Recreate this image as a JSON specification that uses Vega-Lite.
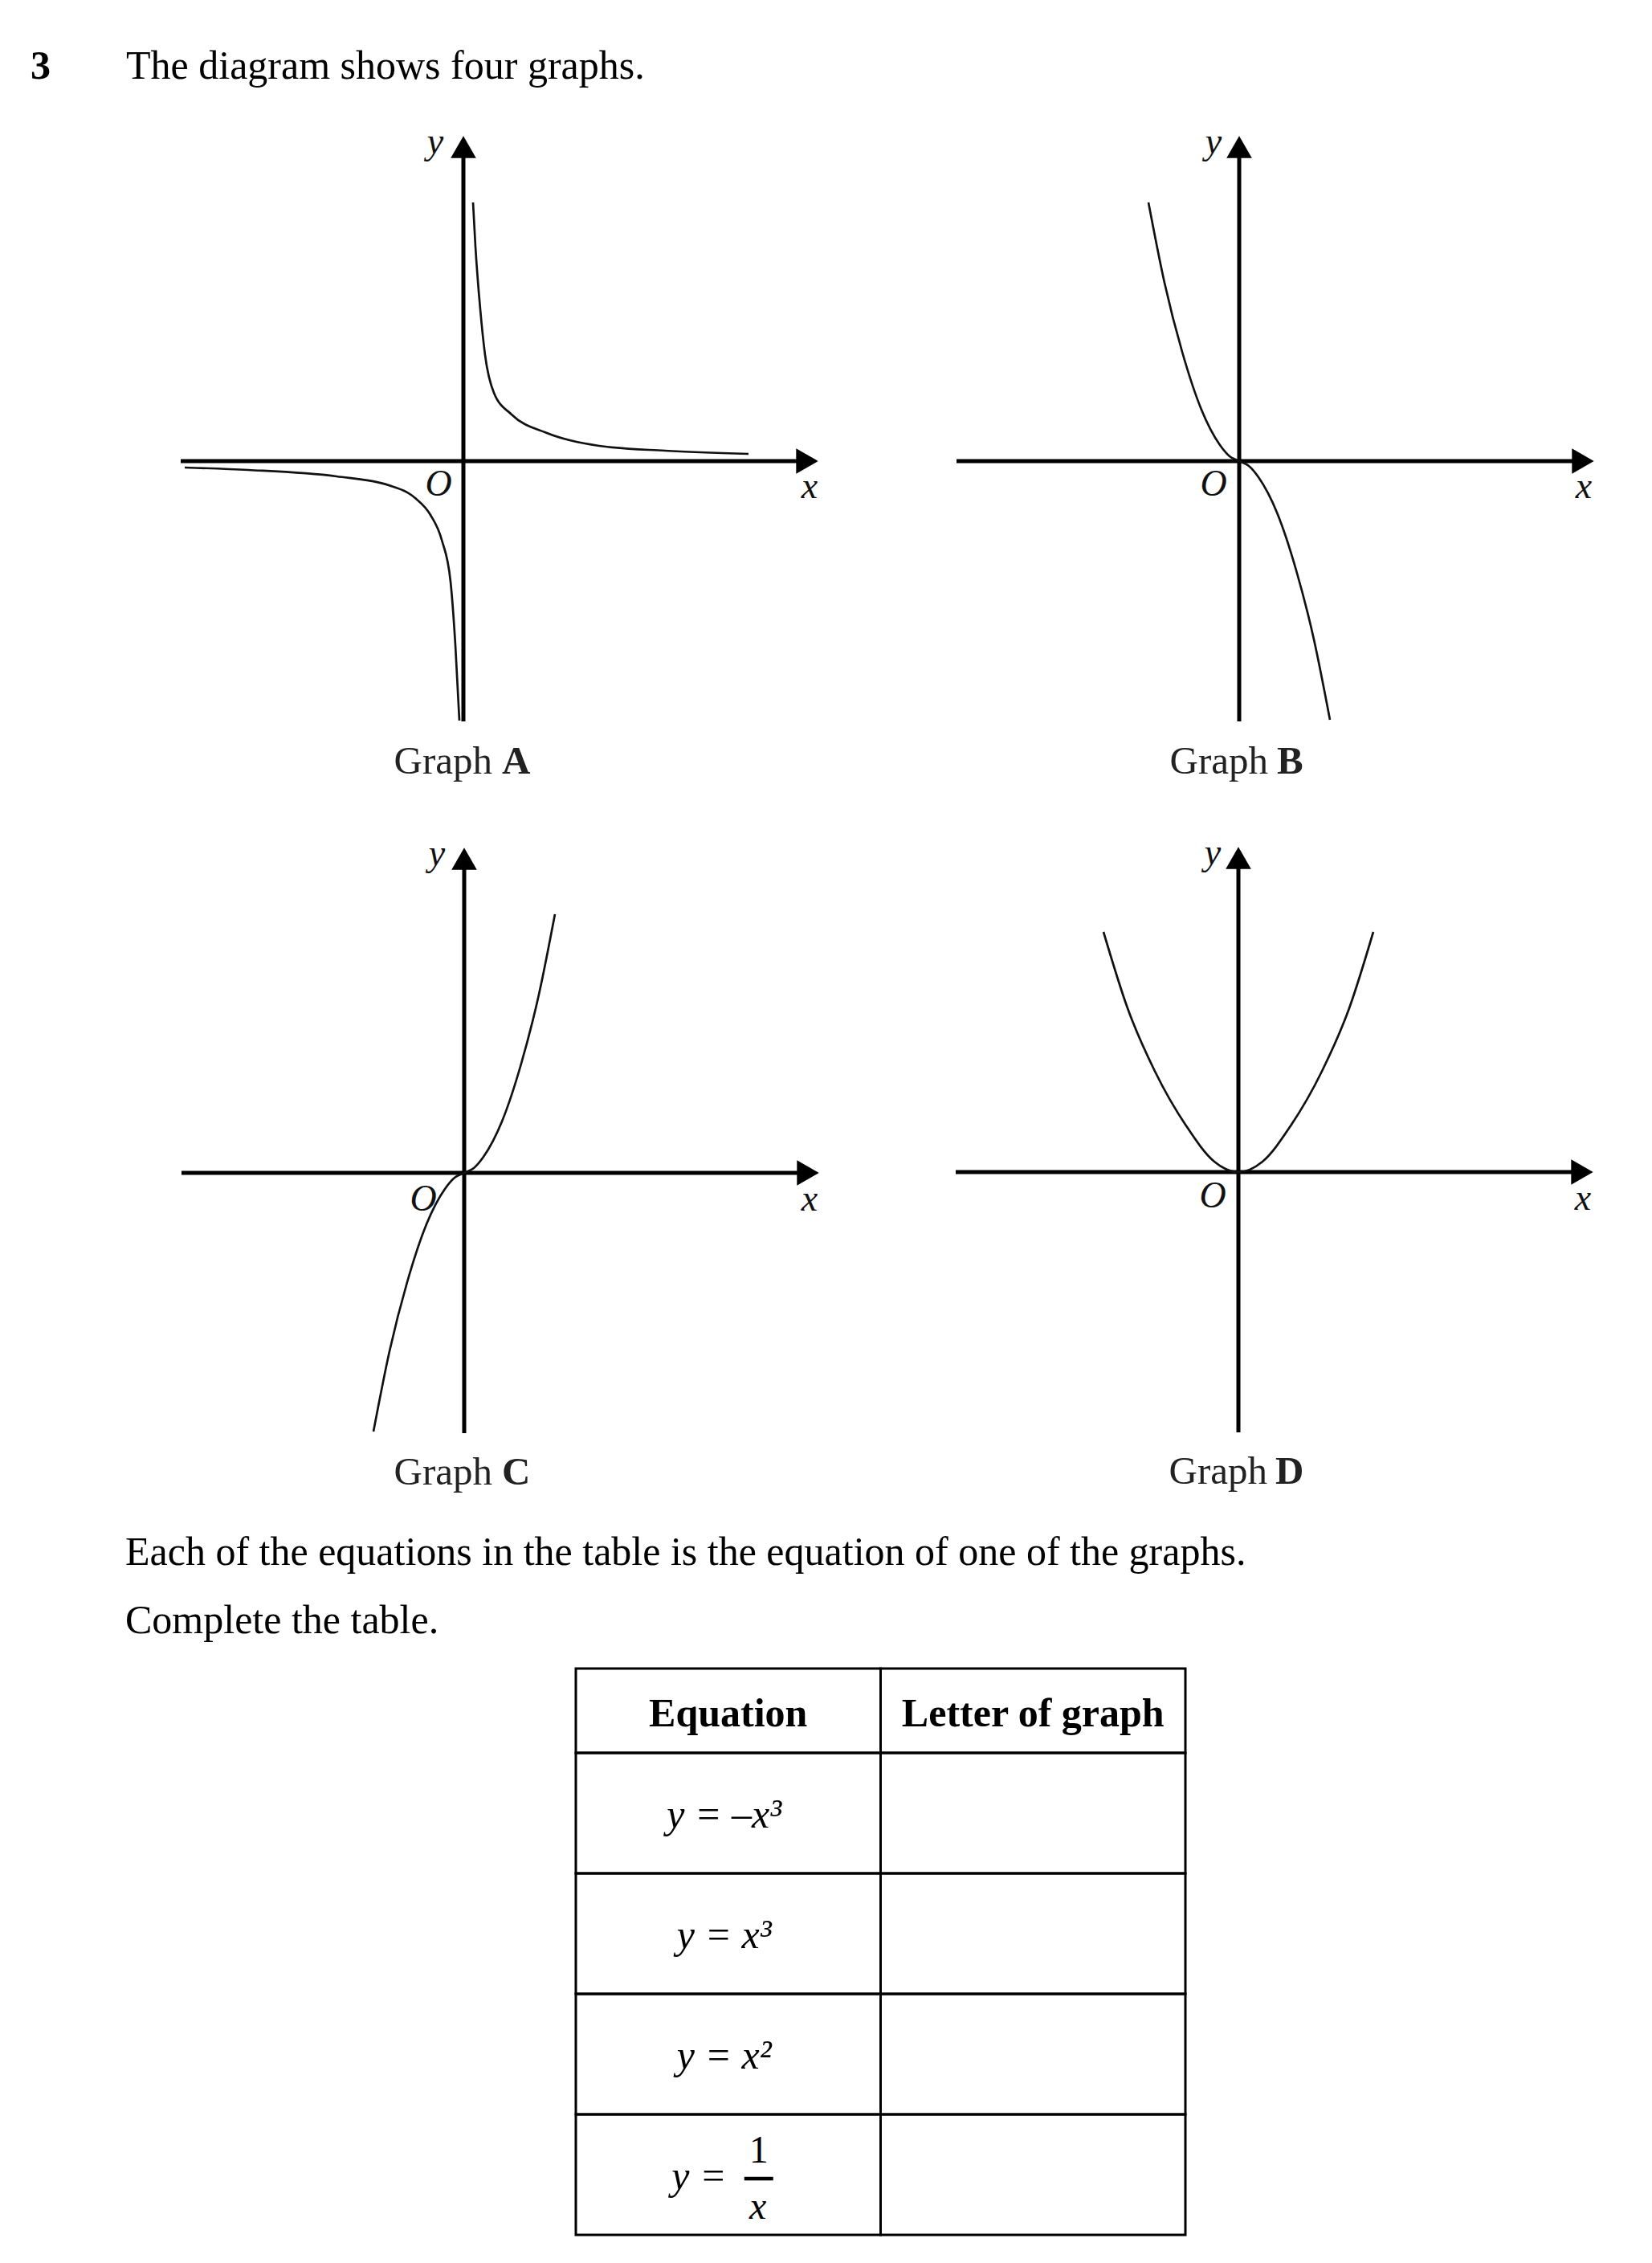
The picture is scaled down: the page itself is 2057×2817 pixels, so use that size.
{
  "$schema": "https://vega.github.io/schema/vega-lite/v6.json",
  "background": "white",
  "padding": 0,
  "spacing": 0,
  "config": {"view": {"stroke": null}, "concat": {"spacing": 0}},
  "datasets": {
    "axisLines": [
      {"axis": "x", "x": -3.52, "x2": 4.2, "y": 0, "y2": 0},
      {"axis": "y", "x": 0, "x2": 0, "y": -3.24, "y2": 3.8}
    ],
    "arrowX": [{"x": 4.28, "y": 0}],
    "arrowY": [{"x": 0, "y": 3.91}],
    "curveA": [
      {"branch": "right", "x": 0.12, "y": 3.22},
      {"branch": "right", "x": 0.15, "y": 2.67},
      {"branch": "right", "x": 0.21, "y": 1.89},
      {"branch": "right", "x": 0.27, "y": 1.32},
      {"branch": "right", "x": 0.38, "y": 0.85},
      {"branch": "right", "x": 0.6, "y": 0.58},
      {"branch": "right", "x": 1.04, "y": 0.35},
      {"branch": "right", "x": 1.69, "y": 0.19},
      {"branch": "right", "x": 2.51, "y": 0.13},
      {"branch": "right", "x": 3.55, "y": 0.09},
      {"branch": "left", "x": -3.47, "y": -0.08},
      {"branch": "left", "x": -2.68, "y": -0.11},
      {"branch": "left", "x": -1.58, "y": -0.19},
      {"branch": "left", "x": -0.93, "y": -0.3},
      {"branch": "left", "x": -0.6, "y": -0.46},
      {"branch": "left", "x": -0.41, "y": -0.67},
      {"branch": "left", "x": -0.27, "y": -0.98},
      {"branch": "left", "x": -0.16, "y": -1.5},
      {"branch": "left", "x": -0.1, "y": -2.29},
      {"branch": "left", "x": -0.05, "y": -3.23}
    ],
    "curveB": [
      {"x": -1.13, "y": 3.22}, {"x": -0.93, "y": 2.22}, {"x": -0.71, "y": 1.36},
      {"x": -0.47, "y": 0.64}, {"x": -0.24, "y": 0.2}, {"x": -0.12, "y": 0.06},
      {"x": 0, "y": 0}, {"x": 0.12, "y": -0.06}, {"x": 0.24, "y": -0.2},
      {"x": 0.47, "y": -0.64}, {"x": 0.71, "y": -1.36}, {"x": 0.93, "y": -2.22},
      {"x": 1.13, "y": -3.22}
    ],
    "curveC": [
      {"x": -1.13, "y": -3.22}, {"x": -0.93, "y": -2.22}, {"x": -0.71, "y": -1.36},
      {"x": -0.47, "y": -0.64}, {"x": -0.24, "y": -0.2}, {"x": -0.12, "y": -0.06},
      {"x": 0, "y": 0}, {"x": 0.12, "y": 0.06}, {"x": 0.24, "y": 0.2},
      {"x": 0.47, "y": 0.64}, {"x": 0.71, "y": 1.36}, {"x": 0.93, "y": 2.22},
      {"x": 1.13, "y": 3.22}
    ],
    "curveD": [
      {"x": -1.68, "y": 2.99}, {"x": -1.38, "y": 2.04}, {"x": -1.04, "y": 1.255},
      {"x": -0.65, "y": 0.575}, {"x": -0.3, "y": 0.13}, {"x": 0, "y": 0},
      {"x": 0.3, "y": 0.13}, {"x": 0.65, "y": 0.575}, {"x": 1.04, "y": 1.255},
      {"x": 1.38, "y": 2.04}, {"x": 1.68, "y": 2.99}
    ],
    "cells": [
      {"row": "1", "col": "Equation"}, {"row": "1", "col": "Letter of graph"},
      {"row": "2", "col": "Equation"}, {"row": "2", "col": "Letter of graph"},
      {"row": "3", "col": "Equation"}, {"row": "3", "col": "Letter of graph"},
      {"row": "4", "col": "Equation"}, {"row": "4", "col": "Letter of graph"}
    ]
  },
  "vconcat": [
    {
      "width": 2057,
      "height": 114,
      "encoding": {
        "x": {"field": "x", "type": "quantitative", "scale": {"domain": [0, 20.57], "nice": false, "zero": false}, "axis": null},
        "y": {"field": "y", "type": "quantitative", "scale": {"domain": [0, 1.14], "nice": false, "zero": false, "reverse": true}, "axis": null},
        "text": {"field": "label", "type": "nominal"}
      },
      "layer": [
        {
          "data": {"values": [{"label": "3", "x": 0.38, "y": 0.98}]},
          "mark": {"type": "text", "align": "left", "baseline": "alphabetic", "font": "Liberation Serif", "fontSize": 50, "fontWeight": "bold", "color": "#000"}
        },
        {
          "data": {"values": [{"label": "The diagram shows four graphs.", "x": 1.57, "y": 0.98}]},
          "mark": {"type": "text", "align": "left", "baseline": "alphabetic", "font": "Liberation Serif", "fontSize": 50, "color": "#000"}
        }
      ]
    },
    {
      "spacing": 0,
      "hconcat": [
        {
          "width": 1100,
          "height": 886,
          "encoding": {
            "x": {"field": "x", "type": "quantitative", "scale": {"domain": [-5.77, 5.23], "nice": false, "zero": false}, "axis": null},
            "y": {"field": "y", "type": "quantitative", "scale": {"domain": [-4.26, 4.6], "nice": false, "zero": false}, "axis": null}
          },
          "layer": [
            {"data": {"name": "axisLines"}, "mark": {"type": "rule", "strokeWidth": 5, "color": "#000"}, "encoding": {"x2": {"field": "x2"}, "y2": {"field": "y2"}}},
            {"data": {"name": "arrowX"}, "mark": {"type": "point", "shape": "triangle-right", "size": 1000, "filled": true, "opacity": 1, "color": "#000"}},
            {"data": {"name": "arrowY"}, "mark": {"type": "point", "shape": "triangle-up", "size": 1000, "filled": true, "opacity": 1, "color": "#000"}},
            {"data": {"name": "curveA"}, "mark": {"type": "line", "interpolate": "monotone", "strokeWidth": 2.7, "color": "#111"}, "encoding": {"detail": {"field": "branch", "type": "nominal"}}},
            {"data": {"values": [{"label": "y", "x": -0.35, "y": 3.83}, {"label": "O", "x": -0.31, "y": -0.43}, {"label": "x", "x": 4.31, "y": -0.46}]},
             "mark": {"type": "text", "font": "Liberation Serif", "fontStyle": "italic", "fontSize": 46, "align": "center", "baseline": "alphabetic", "color": "#111"},
             "encoding": {"text": {"field": "label", "type": "nominal"}}},
            {"data": {"values": [{"label": "Graph", "x": 0.36, "y": -3.89}]},
             "mark": {"type": "text", "font": "Liberation Serif", "fontSize": 49, "align": "right", "baseline": "alphabetic", "color": "#222"},
             "encoding": {"text": {"field": "label", "type": "nominal"}}},
            {"data": {"values": [{"label": "A", "x": 0.48, "y": -3.89}]},
             "mark": {"type": "text", "font": "Liberation Serif", "fontSize": 49, "fontWeight": "bold", "align": "left", "baseline": "alphabetic", "color": "#222"},
             "encoding": {"text": {"field": "label", "type": "nominal"}}}
          ]
        },
        {
          "width": 957,
          "height": 886,
          "encoding": {
            "x": {"field": "x", "type": "quantitative", "scale": {"domain": [-4.43, 5.14], "nice": false, "zero": false}, "axis": null},
            "y": {"field": "y", "type": "quantitative", "scale": {"domain": [-4.26, 4.6], "nice": false, "zero": false}, "axis": null}
          },
          "layer": [
            {"data": {"name": "axisLines"}, "mark": {"type": "rule", "strokeWidth": 5, "color": "#000"}, "encoding": {"x2": {"field": "x2"}, "y2": {"field": "y2"}}},
            {"data": {"name": "arrowX"}, "mark": {"type": "point", "shape": "triangle-right", "size": 1000, "filled": true, "opacity": 1, "color": "#000"}},
            {"data": {"name": "arrowY"}, "mark": {"type": "point", "shape": "triangle-up", "size": 1000, "filled": true, "opacity": 1, "color": "#000"}},
            {"data": {"name": "curveB"}, "mark": {"type": "line", "interpolate": "monotone", "strokeWidth": 2.7, "color": "#111"}},
            {"data": {"values": [{"label": "y", "x": -0.32, "y": 3.83}, {"label": "O", "x": -0.32, "y": -0.43}, {"label": "x", "x": 4.29, "y": -0.46}]},
             "mark": {"type": "text", "font": "Liberation Serif", "fontStyle": "italic", "fontSize": 46, "align": "center", "baseline": "alphabetic", "color": "#111"},
             "encoding": {"text": {"field": "label", "type": "nominal"}}},
            {"data": {"values": [{"label": "Graph", "x": 0.36, "y": -3.89}]},
             "mark": {"type": "text", "font": "Liberation Serif", "fontSize": 49, "align": "right", "baseline": "alphabetic", "color": "#222"},
             "encoding": {"text": {"field": "label", "type": "nominal"}}},
            {"data": {"values": [{"label": "B", "x": 0.47, "y": -3.89}]},
             "mark": {"type": "text", "font": "Liberation Serif", "fontSize": 49, "fontWeight": "bold", "align": "left", "baseline": "alphabetic", "color": "#222"},
             "encoding": {"text": {"field": "label", "type": "nominal"}}}
          ]
        }
      ]
    },
    {
      "spacing": 0,
      "hconcat": [
        {
          "width": 1100,
          "height": 886,
          "encoding": {
            "x": {"field": "x", "type": "quantitative", "scale": {"domain": [-5.78, 5.22], "nice": false, "zero": false}, "axis": null},
            "y": {"field": "y", "type": "quantitative", "scale": {"domain": [-4.26, 4.6], "nice": false, "zero": false}, "axis": null}
          },
          "layer": [
            {"data": {"name": "axisLines"}, "mark": {"type": "rule", "strokeWidth": 5, "color": "#000"}, "encoding": {"x2": {"field": "x2"}, "y2": {"field": "y2"}}},
            {"data": {"name": "arrowX"}, "mark": {"type": "point", "shape": "triangle-right", "size": 1000, "filled": true, "opacity": 1, "color": "#000"}},
            {"data": {"name": "arrowY"}, "mark": {"type": "point", "shape": "triangle-up", "size": 1000, "filled": true, "opacity": 1, "color": "#000"}},
            {"data": {"name": "curveC"}, "mark": {"type": "line", "interpolate": "monotone", "strokeWidth": 2.7, "color": "#111"}},
            {"data": {"values": [{"label": "y", "x": -0.34, "y": 3.83}, {"label": "O", "x": -0.51, "y": -0.47}, {"label": "x", "x": 4.3, "y": -0.47}]},
             "mark": {"type": "text", "font": "Liberation Serif", "fontStyle": "italic", "fontSize": 46, "align": "center", "baseline": "alphabetic", "color": "#111"},
             "encoding": {"text": {"field": "label", "type": "nominal"}}},
            {"data": {"values": [{"label": "Graph", "x": 0.35, "y": -3.88}]},
             "mark": {"type": "text", "font": "Liberation Serif", "fontSize": 49, "align": "right", "baseline": "alphabetic", "color": "#222"},
             "encoding": {"text": {"field": "label", "type": "nominal"}}},
            {"data": {"values": [{"label": "C", "x": 0.47, "y": -3.88}]},
             "mark": {"type": "text", "font": "Liberation Serif", "fontSize": 49, "fontWeight": "bold", "align": "left", "baseline": "alphabetic", "color": "#222"},
             "encoding": {"text": {"field": "label", "type": "nominal"}}}
          ]
        },
        {
          "width": 957,
          "height": 886,
          "encoding": {
            "x": {"field": "x", "type": "quantitative", "scale": {"domain": [-4.42, 5.15], "nice": false, "zero": false}, "axis": null},
            "y": {"field": "y", "type": "quantitative", "scale": {"domain": [-4.27, 4.59], "nice": false, "zero": false}, "axis": null}
          },
          "layer": [
            {"data": {"name": "axisLines"}, "mark": {"type": "rule", "strokeWidth": 5, "color": "#000"}, "encoding": {"x2": {"field": "x2"}, "y2": {"field": "y2"}}},
            {"data": {"name": "arrowX"}, "mark": {"type": "point", "shape": "triangle-right", "size": 1000, "filled": true, "opacity": 1, "color": "#000"}},
            {"data": {"name": "arrowY"}, "mark": {"type": "point", "shape": "triangle-up", "size": 1000, "filled": true, "opacity": 1, "color": "#000"}},
            {"data": {"name": "curveD"}, "mark": {"type": "line", "interpolate": "monotone", "strokeWidth": 2.7, "color": "#111"}},
            {"data": {"values": [{"label": "y", "x": -0.32, "y": 3.83}, {"label": "O", "x": -0.32, "y": -0.44}, {"label": "x", "x": 4.29, "y": -0.47}]},
             "mark": {"type": "text", "font": "Liberation Serif", "fontStyle": "italic", "fontSize": 46, "align": "center", "baseline": "alphabetic", "color": "#111"},
             "encoding": {"text": {"field": "label", "type": "nominal"}}},
            {"data": {"values": [{"label": "Graph", "x": 0.36, "y": -3.88}]},
             "mark": {"type": "text", "font": "Liberation Serif", "fontSize": 49, "align": "right", "baseline": "alphabetic", "color": "#222"},
             "encoding": {"text": {"field": "label", "type": "nominal"}}},
            {"data": {"values": [{"label": "D", "x": 0.46, "y": -3.88}]},
             "mark": {"type": "text", "font": "Liberation Serif", "fontSize": 49, "fontWeight": "bold", "align": "left", "baseline": "alphabetic", "color": "#222"},
             "encoding": {"text": {"field": "label", "type": "nominal"}}}
          ]
        }
      ]
    },
    {
      "width": 2057,
      "height": 188.5,
      "data": {"values": [
        {"label": "Each of the equations in the table is the equation of one of the graphs.", "x": 1.56, "y": 0.62},
        {"label": "Complete the table.", "x": 1.56, "y": 1.47}
      ]},
      "mark": {"type": "text", "align": "left", "baseline": "alphabetic", "font": "Liberation Serif", "fontSize": 50, "color": "#000"},
      "encoding": {
        "x": {"field": "x", "type": "quantitative", "scale": {"domain": [0, 20.57], "nice": false, "zero": false}, "axis": null},
        "y": {"field": "y", "type": "quantitative", "scale": {"domain": [0, 1.885], "nice": false, "zero": false, "reverse": true}, "axis": null},
        "text": {"field": "label", "type": "nominal"}
      }
    },
    {
      "spacing": 0,
      "hconcat": [
        {
          "width": 714.5,
          "height": 700,
          "data": {"values": [{"label": ""}]},
          "mark": {"type": "text"},
          "encoding": {"text": {"field": "label", "type": "nominal"}}
        },
        {
          "spacing": 0,
          "bounds": "flush",
          "vconcat": [
            {
              "width": 759,
              "height": 105,
              "data": {"values": [{"col": "Equation", "row": "head"}, {"col": "Letter of graph", "row": "head"}]},
              "encoding": {
                "x": {"field": "col", "type": "nominal", "scale": {"domain": ["Equation", "Letter of graph"], "paddingInner": 0, "paddingOuter": 0}, "axis": null},
                "y": {"field": "row", "type": "nominal", "scale": {"domain": ["head"], "paddingInner": 0, "paddingOuter": 0}, "axis": null}
              },
              "layer": [
                {"mark": {"type": "rect", "filled": false, "color": "#000", "strokeWidth": 3, "opacity": 1}},
                {"mark": {"type": "text", "font": "Liberation Serif", "fontSize": 50, "fontWeight": "bold", "align": "center", "baseline": "middle", "dy": 4, "color": "#000"},
                 "encoding": {"text": {"field": "col", "type": "nominal"}}}
              ]
            },
            {
              "width": 759,
              "height": 600,
              "encoding": {
                "x": {"field": "col", "type": "nominal", "scale": {"domain": ["Equation", "Letter of graph"], "paddingInner": 0, "paddingOuter": 0}, "axis": null},
                "y": {"field": "row", "type": "nominal", "scale": {"domain": ["1", "2", "3", "4"], "paddingInner": 0, "paddingOuter": 0}, "axis": null}
              },
              "layer": [
                {"data": {"name": "cells"}, "mark": {"type": "rect", "filled": false, "color": "#000", "strokeWidth": 3, "opacity": 1}},
                {"data": {"values": [
                  {"row": "1", "col": "Equation", "eq": "y = –x³"},
                  {"row": "2", "col": "Equation", "eq": "y = x³"},
                  {"row": "3", "col": "Equation", "eq": "y = x²"}
                ]},
                 "mark": {"type": "text", "font": "Liberation Serif", "fontStyle": "italic", "fontSize": 50, "align": "center", "baseline": "middle", "dx": -5, "dy": 3, "color": "#000"},
                 "encoding": {"text": {"field": "eq", "type": "nominal"}}},
                {"data": {"values": [{"row": "4", "col": "Equation", "part": "y ="}]},
                 "mark": {"type": "text", "font": "Liberation Serif", "fontStyle": "italic", "fontSize": 50, "align": "right", "baseline": "middle", "dx": -2, "dy": 3, "color": "#000"},
                 "encoding": {"text": {"field": "part", "type": "nominal"}}},
                {"data": {"values": [{"row": "4", "col": "Equation", "part": "1"}]},
                 "mark": {"type": "text", "font": "Liberation Serif", "fontSize": 48, "align": "center", "baseline": "middle", "dx": 38, "dy": -29, "color": "#000"},
                 "encoding": {"text": {"field": "part", "type": "nominal"}}},
                {"data": {"values": [{"row": "4", "col": "Equation", "part": "bar"}]},
                 "mark": {"type": "tick", "orient": "horizontal", "size": 36, "thickness": 4.5, "xOffset": 38, "yOffset": 5, "opacity": 1, "color": "#000"}},
                {"data": {"values": [{"row": "4", "col": "Equation", "part": "x"}]},
                 "mark": {"type": "text", "font": "Liberation Serif", "fontStyle": "italic", "fontSize": 48, "align": "center", "baseline": "middle", "dx": 37, "dy": 41, "color": "#000"},
                 "encoding": {"text": {"field": "part", "type": "nominal"}}}
              ]
            }
          ]
        }
      ]
    }
  ]
}
